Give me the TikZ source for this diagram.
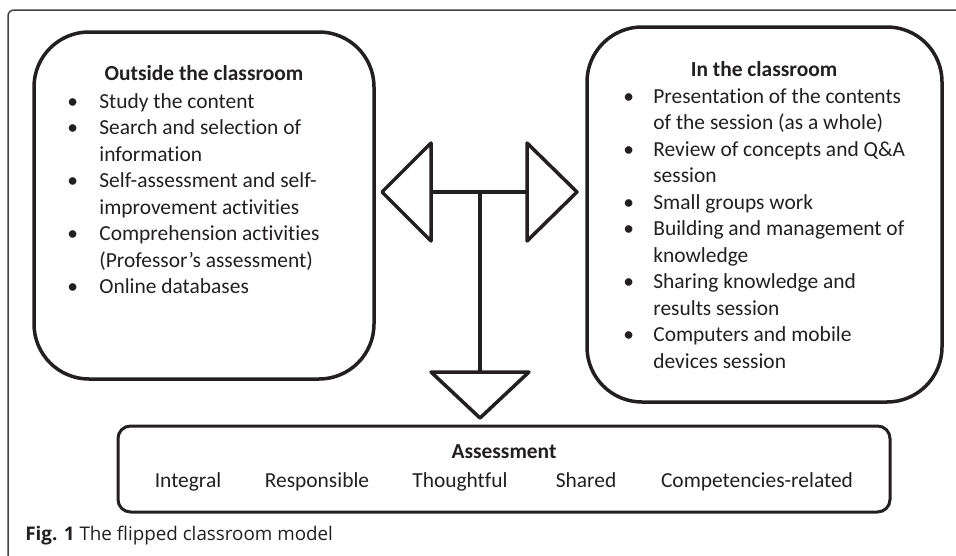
\documentclass[tikz,border=0pt]{standalone}
\usepackage{fontspec}
\setmainfont{Carlito}[Ligatures=NoCommon]
\newfontfamily\capfont{Open Sans}
\definecolor{ink}{RGB}{35,31,32}
\newcommand{\bl}{\makebox[0.64cm][l]{\textbullet}}
\newcommand{\br}{\makebox[0.6cm][l]{\textbullet}}
\tikzset{
  box/.style={draw=ink, line width = 0.7mm, rounded corners=1.1cm, inner sep=0pt},
  tri/.style={draw=ink, line width = 0.7mm, line join=round, fill=white},
  txt/.style={text=ink, inner sep=0pt, font=\fontsize{12.2}{15.1}\selectfont},
}

\begin{document}
\begin{tikzpicture}
\useasboundingbox (0,0) rectangle (19.12,11.1);

% frame of the figure
\draw[ink!85, line width = 0.3mm, rounded corners=0.12cm] (0.16,-0.2) -- (0.16,10.9) -- (19.4,10.9);

% the three boxes
\node[box, minimum width=6.8cm, minimum height=6.94cm] (outside) at (4.08,6.99) {};
\node[box, minimum width=7.1cm, minimum height=7.5cm] (inside) at (15.29,6.81) {};
\node[box, rounded corners=0.25cm, line width = 0.6mm, minimum width=15.44cm, minimum height=1.72cm] (assess) at (10.08,1.72) {};

% arrows
\coordinate (hub) at (9.6,7.26);
\coordinate (foot) at (9.6,3.66);
\draw[tri] (8.62,7.26) -- (10.54,7.26);
\draw[tri] (hub) -- (foot);
\draw[tri] (8.62,8.24) -- (7.64,7.26) -- (8.62,6.28) -- cycle;
\draw[tri] (10.54,8.24) -- (11.54,7.26) -- (10.54,6.28) -- cycle;
\draw[tri] (8.62,3.66) -- (10.58,3.66) -- (9.6,2.74) -- cycle;

% outside the classroom
\node[txt, anchor=base] (outsidetitle) at (4.08,9.5) {\bfseries Outside the classroom};
\node[txt, anchor=base west] (outsidelist) at (1.34,8.94) {%
\begin{tabular}[t]{@{}l@{}l@{}}
\bl & Study the content\\
\bl & Search and selection of\\
    & information\\
\bl & Self-assessment and self-\\
    & improvement activities\\
\bl & Comprehension activities\\
    & (Professor’s assessment)\\
\bl & Online databases
\end{tabular}};

% in the classroom
\node[txt, anchor=base] (insidetitle) at (15.28,9.58) {\bfseries In the classroom};
\node[txt, anchor=base west] (insidelist) at (12.46,9.04) {%
\begin{tabular}[t]{@{}l@{}l@{}}
\br & Presentation of the contents\\
    & of the session (as a whole)\\
\br & Review of concepts and Q\&A\\
    & session\\
\br & Small groups work\\
\br & Building and management of\\
    & knowledge\\
\br & Sharing knowledge and\\
    & results session\\
\br & Computers and mobile\\
    & devices session
\end{tabular}};

% assessment
\node[txt, anchor=base] (assesstitle) at (10.08,1.94) {\bfseries Assessment};
\node[txt, anchor=base] (integral) at (3.76,1.36) {Integral};
\node[txt, anchor=base] (responsible) at (6.34,1.36) {Responsible};
\node[txt, anchor=base] (thoughtful) at (9.2,1.36) {Thoughtful};
\node[txt, anchor=base] (shared) at (11.72,1.36) {Shared};
\node[txt, anchor=base] (competencies) at (15.14,1.36) {Competencies-related};

% caption
\node[text=ink, inner sep=0pt, anchor=base west, font=\capfont\fontsize{10.7}{12}\selectfont] (caption) at (0.5,0.3) {\textbf{Fig. 1} The flipped classroom model};
\end{tikzpicture}
\end{document}
